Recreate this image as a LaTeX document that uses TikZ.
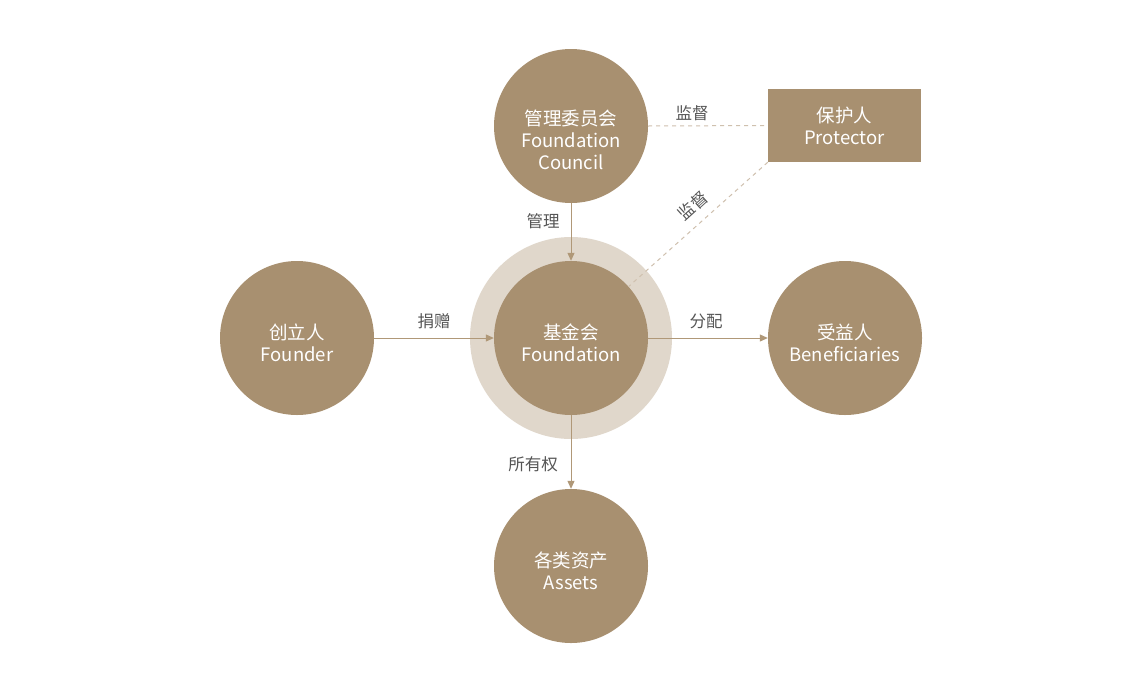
\documentclass[tikz,border=0pt]{standalone}
\usepackage{fontspec}
\setmainfont{Noto Sans CJK SC}
\usetikzlibrary{arrows.meta}
\definecolor{tan}{HTML}{A89070}
\definecolor{halo}{HTML}{E0D7CB}
\definecolor{conn}{HTML}{B09878}
\definecolor{dash}{HTML}{CFC0AE}
\definecolor{lbl}{HTML}{555555}
\begin{document}
\begin{tikzpicture}[x=1pt,y=-1pt,
  entity/.style={circle,fill=tan,minimum size=154pt,inner sep=0pt},
  txt/.style={text=white,align=center,inner sep=0pt,font=\fontsize{18.5}{22}\selectfont},
  boxnode/.style={rectangle,fill=tan,minimum width=153pt,minimum height=73pt,inner sep=0pt,text=white,align=center,font=\fontsize{18.5}{22}\selectfont},
  flow/.style={draw=conn,line width=1pt,-{Triangle[length=8pt,width=7pt]}},
  watch/.style={draw=dash,line width=1pt,dash pattern=on 4pt off 4pt},
  lab/.style={text=lbl,font=\fontsize{16.5}{19}\selectfont,inner sep=0pt}]
\useasboundingbox (0,0) rectangle (1131,675);
\fill[white] (0,0) rectangle (1131,675);
\node[circle,fill=halo,minimum size=202pt,inner sep=0pt] (halo) at (571,338) {};
\node[entity] (fdn) at (571,338) {};
\node[entity] (council) at (571,126) {};
\node[entity] (founder) at (297,338) {};
\node[entity] (benef) at (845,338) {};
\node[entity] (assets) at (571,566) {};
\node[txt] (tfdn) at (571,343) {基金会\\Foundation};
\node[txt] (tcouncil) at (571,140) {管理委员会\\Foundation\\Council};
\node[txt] (tfounder) at (297,343) {创立人\\Founder};
\node[txt] (tbenef) at (845,343) {受益人\\Beneficiaries};
\node[txt] (tassets) at (571,571) {各类资产\\Assets};
\node[boxnode] (prot) at (844.5,125.5) {保护人\\Protector};
\coordinate (pc) at (prot.south west);
\draw[flow] (council) -- (fdn);
\draw[flow] (founder) -- (fdn);
\draw[flow] (fdn) -- (benef);
\draw[flow] (fdn) -- (assets);
\draw[watch] (council.east) -- (prot.west);
\draw[watch] (pc) -- (fdn);
\node[lab] (l1) at (543,221) {管理};
\node[lab] (l2) at (434,321) {捐赠};
\node[lab] (l3) at (706,321) {分配};
\node[lab] (l4) at (533,464) {所有权};
\node[lab] (l5) at (692,113) {监督};
\node[lab,rotate=42] (l6) at (693,206) {监督};
\end{tikzpicture}
\end{document}
